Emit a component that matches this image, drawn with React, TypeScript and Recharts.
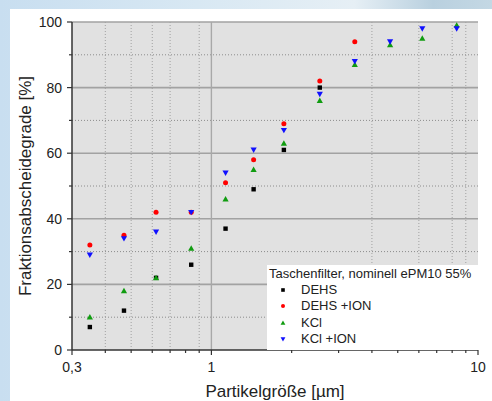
import { ScatterChart, Scatter, XAxis, YAxis, CartesianGrid, ReferenceLine } from 'recharts'

// particle size classes [µm]
const SIZES = [0.35, 0.47, 0.62, 0.84, 1.13, 1.44, 1.87, 2.55, 3.45, 4.68, 6.18, 8.32]

// fractional efficiency [%]
const DEHS = [7, 12, 22, 26, 37, 49, 61, 80]
const DEHS_ION = [32, 35, 42, 42, 51, 58, 69, 82, 94]
const KCL = [10, 18, 22, 31, 46, 55, 63, 76, 87, 93, 95, 99]
const KCL_ION = [29, 34, 36, 42, 54, 61, 67, 78, 88, 94, 98, 98]

const X_MAJOR = [0.3, 1, 10]
const X_TICKS = [0.3, 0.4, 0.5, 0.6, 0.7, 0.8, 0.9, 1, 2, 3, 4, 5, 6, 7, 8, 9, 10]
const X_GRID_MINOR = [0.4, 0.5, 0.6, 0.7, 0.9, 4, 6, 8, 9]
const Y_TICKS = [0, 10, 20, 30, 40, 50, 60, 70, 80, 90, 100]
const Y_GRID_MAJOR = [20, 40, 60, 80, 100]
const Y_GRID_MINOR = [10, 30, 50, 70, 90]

const LEGEND_TITLE = 'Taschenfilter, nominell ePM10 55%'

const FONT = 'Arial, "Liberation Sans", sans-serif'
const TXT = '#222'

const toPoints = (ys: number[]) => ys.map((y, i) => ({ x: SIZES[i], y }))

const square = (c: string, s = 4.4) => (p: any) => (
  <rect x={p.cx - s / 2} y={p.cy - s / 2} width={s} height={s} fill={c} />
)
const dot = (c: string, r = 2.5) => (p: any) => <circle cx={p.cx} cy={p.cy} r={r} fill={c} />
const triUp = (c: string, s = 3.1) => (p: any) => (
  <polygon points={`${p.cx},${p.cy - s} ${p.cx - s},${p.cy + s * 0.75} ${p.cx + s},${p.cy + s * 0.75}`} fill={c} />
)
const triDown = (c: string, s = 3.1) => (p: any) => (
  <polygon points={`${p.cx},${p.cy + s} ${p.cx - s},${p.cy - s * 0.75} ${p.cx + s},${p.cy - s * 0.75}`} fill={c} />
)

const series = [
  { name: 'DEHS', data: DEHS, color: '#000000', shape: square },
  { name: 'DEHS +ION', data: DEHS_ION, color: '#ff0000', shape: dot },
  { name: 'KCl', data: KCL, color: '#109c10', shape: triUp },
  { name: 'KCl +ION', data: KCL_ION, color: '#1010ff', shape: triDown },
]

const XTick = (p: any) => {
  const major = X_MAJOR.includes(p.payload.value)
  return (
    <g>
      <line x1={p.x} x2={p.x} y1={p.y} y2={p.y + (major ? 5 : 3)} stroke="#333" strokeWidth={1.2} />
      {major && (
        <text x={p.x} y={p.y + 22} textAnchor="middle" fontSize={14} fill={TXT} fontFamily={FONT}>
          {String(p.payload.value).replace('.', ',')}
        </text>
      )}
    </g>
  )
}

const YTick = (p: any) => {
  const major = p.payload.value % 20 === 0
  return (
    <g>
      <line x1={p.x} x2={p.x - (major ? 5 : 3)} y1={p.y} y2={p.y} stroke="#333" strokeWidth={1.2} />
      {major && (
        <text x={p.x - 10} y={p.y + 5} textAnchor="end" fontSize={14} fill={TXT} fontFamily={FONT}>
          {p.payload.value}
        </text>
      )}
    </g>
  )
}

export default function App() {
  return (
    <div style={{ position: 'fixed', left: 0, top: 0, width: 492, height: 401, overflow: 'hidden',
      background: 'linear-gradient(90deg, #c8def0 0%, #d8e8f3 40%, #e6eff5 72%, #b9d0df 88%, #c4d8e4 100%)' }}>
      <div style={{ position: 'absolute', left: 10, top: 9, right: 0, bottom: 0, background: '#fff' }} />
      <div style={{ position: 'absolute', left: 0, top: 0 }}>
        <ScatterChart width={492} height={401} margin={{ top: 22, right: 14, bottom: 0, left: 0 }}>
          <CartesianGrid horizontal={false} vertical={false} fill="#e1e1e1" fillOpacity={1} />
          {Y_GRID_MINOR.map(v => (
            <ReferenceLine key={'ym' + v} y={v} stroke="#8c8c8c" strokeDasharray="1 2" />
          ))}
          {X_GRID_MINOR.map(v => (
            <ReferenceLine key={'xm' + v} x={v} stroke="#a0a0a0" strokeDasharray="1 2" />
          ))}
          {Y_GRID_MAJOR.map(v => (
            <ReferenceLine key={'yM' + v} y={v} stroke="#a2a2a2" strokeWidth={1.6} />
          ))}
          <ReferenceLine x={1} stroke="#a8a8a8" strokeWidth={1.4} />
          <XAxis
            type="number" dataKey="x" scale="log" domain={[0.3, 10]} allowDataOverflow
            ticks={X_TICKS} interval={0} tickSize={0} tickMargin={0} tickLine={false}
            tick={<XTick />} height={51}
            axisLine={{ stroke: '#333', strokeWidth: 1.5 }}
            label={{ value: 'Partikelgröße [µm]', position: 'center', dy: 15, fontSize: 17, fill: TXT, fontFamily: FONT }}
          />
          <YAxis
            type="number" dataKey="y" domain={[0, 100]} allowDataOverflow
            ticks={Y_TICKS} interval={0} tickSize={0} tickMargin={0} tickLine={false}
            tick={<YTick />} width={72}
            axisLine={{ stroke: '#333', strokeWidth: 1.5 }}
            label={{ value: 'Fraktionsabscheidegrade [%]', angle: -90, position: 'center', dx: -11, fontSize: 17, fill: TXT, fontFamily: FONT }}
          />
          {series.map(s => (
            <Scatter key={s.name} name={s.name} data={toPoints(s.data)} fill={s.color}
              shape={s.shape(s.color)} isAnimationActive={false} />
          ))}
        </ScatterChart>
      </div>
      <div style={{ position: 'absolute', left: 267, top: 265, width: 211, height: 85, background: '#fff',
        fontFamily: FONT, fontSize: 13, color: TXT, lineHeight: '16px' }}>
        <div style={{ paddingLeft: 2, paddingTop: 1 }}>{LEGEND_TITLE}</div>
        {series.map(s => (
          <div key={s.name} style={{ display: 'flex', alignItems: 'center', height: 16.3 }}>
            <svg width={34} height={16}>
              {s.shape(s.color, s.shape === dot ? 2 : s.shape === square ? 3.6 : 2.4)({ cx: 16, cy: 8 })}
            </svg>
            <span>{s.name}</span>
          </div>
        ))}
      </div>
    </div>
  )
}
